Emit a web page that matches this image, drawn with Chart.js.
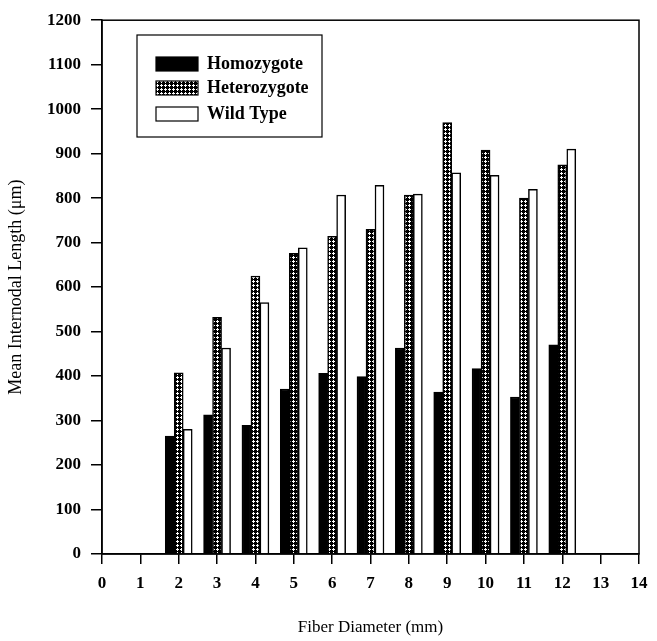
<!DOCTYPE html>
<html>
<head>
<meta charset="utf-8">
<script src="https://cdn.jsdelivr.net/npm/chart.js@4.4.1/dist/chart.umd.min.js"></script>
<style>
  html, body { margin: 0; padding: 0; background: #fff; }
  #wrap { width: 657px; height: 641px; }
</style>
</head>
<body>
<div id="wrap"><canvas id="fiberChart" width="657" height="641"></canvas></div>
<script>
// values
var diameters = [2, 3, 4, 5, 6, 7, 8, 9, 10, 11, 12];
var homozygote = [265, 313, 289, 371, 406, 399, 463, 364, 417, 353, 470];
var heterozygote = [407, 532, 625, 676, 714, 730, 807, 970, 908, 800, 875];
var wildType = [280, 463, 565, 688, 807, 829, 809, 857, 851, 820, 910];
var seriesNames = ["Homozygote", "Heterozygote", "Wild Type"];
var xTitle = "Fiber Diameter (mm)";
var yTitle = "Mean Internodal Length (\u03bcm)";

var serif = "'Liberation Serif', 'DejaVu Serif', serif";

// dark cross-hatch fill for the heterozygote bars
function checkerPattern() {
    var c = document.createElement("canvas");
    c.width = 4; c.height = 4;
    var g = c.getContext("2d");
    g.fillStyle = "#000";
    g.fillRect(0, 0, 4, 4);
    g.fillStyle = "#fff";
    g.fillRect(1, 0, 1, 3);
    g.fillRect(0, 1, 3, 1);
    return g.createPattern(c, "repeat");
}

function points(vals) {
    return diameters.map(function (d, i) { return {x: d, y: vals[i]}; });
}

// box round the plot + legend box in the upper left
var framePlugin = {
    id: "frame",
    afterDraw: function (chart) {
        var ctx = chart.ctx, a = chart.chartArea;
        ctx.save();
        ctx.strokeStyle = "#000";
        ctx.lineWidth = 1.5;
        ctx.strokeRect(a.left, a.top, a.right - a.left, a.bottom - a.top);

        // legend
        ctx.lineWidth = 1.2;
        ctx.strokeRect(137, 35, 185, 102);
        ctx.font = "bold 18px " + serif;
        ctx.textBaseline = "middle";
        var rowY = [57, 81, 107];
        chart.data.datasets.forEach(function (ds, i) {
            ctx.fillStyle = ds.backgroundColor;
            ctx.fillRect(156, rowY[i], 42, 14);
            ctx.strokeStyle = "#000";
            ctx.lineWidth = 1.2;
            ctx.strokeRect(156, rowY[i], 42, 14);
            ctx.fillStyle = "#000";
            ctx.fillText(ds.label, 207, rowY[i] + 7);
        });
        ctx.restore();
    }
};

var ctx = document.getElementById("fiberChart");
var chart = new Chart(ctx, {
    type: "bar",
    data: {
        datasets: [
            { label: seriesNames[0], data: points(homozygote), backgroundColor: "#000", borderColor: "#000", borderWidth: 1.5 },
            { label: seriesNames[1], data: points(heterozygote), backgroundColor: checkerPattern(), borderColor: "#000", borderWidth: 1.5 },
            { label: seriesNames[2], data: points(wildType), backgroundColor: "#fff", borderColor: "#000", borderWidth: 1.5 }
        ]
    },
    options: {
        responsive: false,
        animation: false,
        barThickness: 9,
        layout: { padding: { left: 0, right: 18, top: 11, bottom: 0 } },
        plugins: {
            legend: { display: false },
            tooltip: { enabled: false }
        },
        scales: {
            x: {
                type: "linear",
                min: 0, max: 14,
                offset: false,
                ticks: { stepSize: 1, color: "#000", padding: 9, maxRotation: 0,
                         font: { family: serif, size: 17, weight: "bold" } },
                grid: { offset: false, drawOnChartArea: false, drawTicks: true, tickLength: 10,
                        color: "#000", lineWidth: 1.5 },
                border: { color: "#000", width: 1.5 },
                title: { display: true, text: xTitle, color: "#000",
                         font: { family: serif, size: 17 }, padding: { top: 2, bottom: 3 } },
                afterFit: function (s) { s.height = 87; }
            },
            y: {
                min: 0, max: 1200,
                ticks: { stepSize: 100, color: "#000", padding: 10,
                         font: { family: serif, size: 17, weight: "bold" },
                         callback: function (v) { return String(v); } },
                grid: { drawOnChartArea: false, drawTicks: true, tickLength: 11,
                        color: "#000", lineWidth: 1.5 },
                border: { color: "#000", width: 1.5 },
                title: { display: true, text: yTitle, color: "#000",
                         font: { family: serif, size: 18 }, padding: { top: 5, bottom: 0 } },
                afterFit: function (s) { s.width = 102; }
            }
        }
    },
    plugins: [framePlugin]
});
</script>
</body>
</html>
